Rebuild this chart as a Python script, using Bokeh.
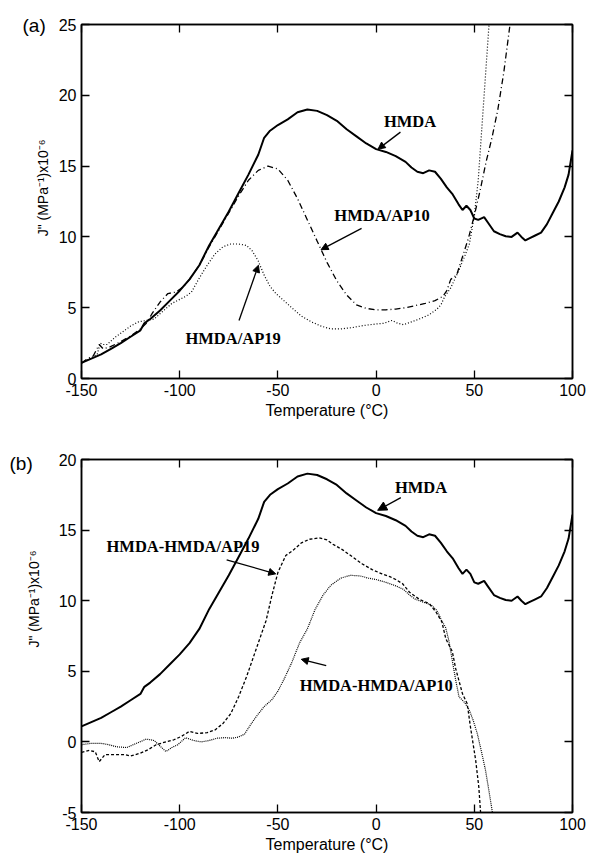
from bokeh.plotting import figure
from bokeh.layouts import column
from bokeh.models import (LinearAxis, FixedTicker, Label, Arrow, NormalHead, Range1d,
                          CustomLabelingPolicy)
from bokeh.embed import file_html
from bokeh.resources import INLINE

# ---- loss compliance J'' (MPa^-1 x 1e-6) versus temperature (deg C) ----

# HMDA (shown in both panels)
hmda_t = [-150, -145, -140, -135, -130, -125, -120, -118, -115, -110, -105, -100,
          -95, -90, -85, -80, -75, -70, -65, -60, -57, -54, -50, -45, -40, -35,
          -30, -25, -20, -15, -10, -5, 0, 5, 10, 15, 18, 21, 24, 27, 30, 33, 36,
          39, 42, 44, 46, 48, 50, 52, 55, 57, 60, 63, 66, 69, 72, 74, 76, 78, 81,
          84, 87, 90, 93, 96, 98, 100]
hmda_j = [1.1, 1.4, 1.7, 2.1, 2.5, 2.95, 3.4, 3.9, 4.2, 4.8, 5.5, 6.2,
          7.0, 8.0, 9.4, 10.6, 11.8, 13.1, 14.4, 15.8, 17.0, 17.5, 17.9, 18.3, 18.8, 19.0,
          18.9, 18.6, 18.2, 17.6, 17.1, 16.6, 16.2, 16.0, 15.7, 15.3, 14.9, 14.6, 14.5, 14.7, 14.6, 14.1, 13.5,
          13.0, 12.3, 11.9, 12.2, 11.9, 11.3, 11.2, 11.4, 11.0, 10.4, 10.2, 10.05, 10.0, 10.3, 10.0, 9.75, 9.9, 10.1,
          10.3, 10.9, 11.7, 12.5, 13.5, 14.4, 16.1]

# HMDA/AP10
ap10_t = [-150, -147, -144, -141, -139, -136, -130, -125, -120, -117, -114, -110,
          -106, -102, -98, -95, -90, -85, -80, -75, -70, -65, -60, -55, -50, -45,
          -40, -35, -30, -25, -20, -15, -10, -5, 0, 5, 10, 15, 20, 25, 30, 34, 36,
          38, 41, 44, 47, 50, 53, 56, 59, 62, 65, 68, 69.5]
ap10_j = [1.1, 1.4, 1.6, 2.4, 2.1, 2.2, 2.6, 3.0, 3.5, 3.9, 4.6, 5.4,
          6.0, 6.1, 6.5, 7.0, 8.0, 9.3, 10.5, 11.7, 12.9, 14.0, 14.7, 15.0, 14.8, 14.0,
          12.7, 11.2, 9.7, 8.2, 6.9, 5.9, 5.2, 4.95, 4.85, 4.85, 4.9, 5.0, 5.15, 5.3, 5.5, 5.8, 6.2,
          7.0, 7.3, 8.6, 9.9, 11.5, 13.3, 15.3, 17.0, 19.0, 21.6, 24.8, 26.5]

# HMDA/AP19
ap19_t = [-150, -146, -142, -140.5, -139, -137, -133, -129, -125, -121, -117, -113,
          -109, -104, -97, -94, -90, -86, -82, -78, -74, -70, -66, -63, -60, -57,
          -54, -51, -47, -43, -38, -33, -28, -23, -18, -12, -6, 0, 4, 8, 11, 14,
          18, 22, 27, 31, 33, 35, 38, 42, 45, 47.5, 50, 52, 53.5, 55, 56.5, 58]
ap19_j = [1.1, 1.4, 1.7, 2.5, 2.4, 2.4, 2.9, 3.3, 3.7, 4.0, 4.1, 4.2,
          4.7, 5.3, 5.8, 6.1, 7.1, 8.0, 8.8, 9.3, 9.5, 9.5, 9.4, 9.0, 8.3, 7.3,
          6.5, 6.0, 5.5, 5.0, 4.4, 4.0, 3.7, 3.5, 3.5, 3.6, 3.75, 3.85, 3.9, 4.1, 3.9, 3.8,
          4.0, 4.2, 4.5, 4.9, 5.2, 5.8, 6.4, 7.6, 8.6, 9.5, 11.5, 14.0, 17.0, 20.0, 23.0, 26.0]

# HMDA - HMDA/AP19
d19_t = [-150, -146, -143, -141, -138, -133, -128, -125, -120, -116, -112, -107,
         -103, -99, -95, -91, -86, -82, -78, -74, -70, -66, -62, -59, -56, -53,
         -50, -46, -42, -38, -34, -29, -25, -22, -17, -12, -7, -2, 3, 7, 10, 13.5,
         17, 22, 27, 30.5, 33.5, 35.5, 38.8, 40.5, 44, 46.4, 48, 50.7, 52.3, 53.2, 53.6]
d19_j = [-0.75, -0.6, -0.7, -1.4, -0.9, -0.9, -0.9, -1.0, -0.8, -0.55, -0.2, 0.0,
         0.15, 0.4, 0.75, 0.6, 0.65, 0.85, 1.3, 2.0, 3.2, 4.6, 6.2, 7.4, 8.6, 10.4,
         12.0, 13.2, 13.6, 14.1, 14.35, 14.45, 14.3, 14.0, 13.6, 13.1, 12.6, 12.2, 11.9, 11.7, 11.5, 11.2,
         10.6, 10.1, 9.8, 9.2, 8.5, 7.3, 6.4, 5.2, 3.4, 2.7, 1.1, -1.3, -3.2, -5.0, -5.6]

# HMDA - HMDA/AP10
d10_t = [-150, -145, -140, -136, -132, -127, -122, -117, -113, -110, -107, -104,
         -101, -97, -93, -89, -85, -81, -77, -73, -70, -67, -64, -61, -57, -53,
         -50, -47, -43, -39, -35, -31, -27, -23, -18, -13, -8, -4, 0, 5, 10, 14,
         17, 20, 24, 28, 31, 33, 35.4, 37, 39, 40.5, 42.2, 45, 47.3, 49.5, 51.5,
         53.5, 55.7, 57.5, 59.1, 59.6]
d10_j = [-0.2, -0.1, -0.1, -0.2, -0.35, -0.4, -0.1, 0.2, 0.1, -0.3, -0.68, -0.4,
         -0.2, 0.3, 0.1, 0.0, 0.1, 0.26, 0.3, 0.26, 0.35, 0.55, 1.2, 1.8, 2.5, 3.0,
         3.6, 4.4, 5.6, 7.0, 8.0, 9.4, 10.4, 11.1, 11.6, 11.8, 11.75, 11.6, 11.5, 11.3, 11.05, 10.8,
         10.4, 10.1, 9.9, 9.7, 9.3, 8.7, 8.1, 7.2, 5.6, 4.4, 3.2, 2.8, 2.3, 1.5, 0.6,
         -0.6, -2.0, -3.5, -4.9, -5.6]

x_ticks = [-150, -100, -50, 0, 50, 100]
y_ticks_a = [0, 5, 10, 15, 20, 25]
y_ticks_b = [-5, 0, 5, 10, 15, 20]

SANS = "Liberation Sans"
SERIF = "Liberation Serif"
Y_TITLE = 'J" (MPa\u207b\u00b9)x10\u207b\u2076'
NBSP = "\u00a0"

# tick-only axes on the top and right edges: drop every label
NO_LABELS = "for (const i of indices) { indices.unset(i) }\nreturn indices"


def plain_minus(ticks):
    return {t: str(t) for t in ticks if t < 0}


def make_panel(height, border_top, border_bottom, border_left, border_right, yr, yticks,
               title_standoff, tag, tag_drop, title_lift):
    # leading no-break spaces lift the rotated y title above the frame centre
    ytitle = NBSP * title_lift + Y_TITLE
    p = figure(width=590, height=height, output_backend="svg", toolbar_location=None,
               x_range=Range1d(-150, 100), y_range=Range1d(*yr),
               min_border_left=border_left, min_border_right=border_right,
               min_border_top=border_top, min_border_bottom=border_bottom,
               x_axis_label="Temperature (\u00b0C)", y_axis_label=ytitle)
    p.grid.visible = False
    p.outline_line_color = "black"
    p.outline_line_width = 1.5
    p.background_fill_color = "white"
    p.border_fill_color = "white"

    # panel tag, set in the top-left corner
    p.title.text = tag
    p.title.align = "left"
    p.title.offset = 9 - border_left
    p.title.standoff = -tag_drop
    p.title.text_font = SANS
    p.title.text_font_style = "normal"
    p.title.text_font_size = "19px"
    p.title.text_color = "black"

    p.xaxis.ticker = FixedTicker(ticks=x_ticks)
    p.yaxis.ticker = FixedTicker(ticks=yticks)
    p.xaxis.major_label_overrides = plain_minus(x_ticks)
    p.yaxis.major_label_overrides = plain_minus(yticks)
    for ax in (p.xaxis[0], p.yaxis[0]):
        ax.major_tick_in = 8
        ax.major_tick_out = 0
        ax.minor_tick_line_color = None
        ax.axis_line_width = 1.5
        ax.major_tick_line_width = 1.3
        ax.major_label_text_font = SANS
        ax.major_label_text_font_size = "16px"
        ax.major_label_text_color = "black"
        ax.axis_label_text_font = SANS
        ax.axis_label_text_font_style = "normal"
        ax.axis_label_text_color = "black"
    p.xaxis.major_label_standoff = 5
    p.xaxis.axis_label_standoff = 3
    p.xaxis.axis_label_text_font_size = "16px"
    p.yaxis.major_label_standoff = 5
    p.yaxis.axis_label_standoff = title_standoff
    p.yaxis.axis_label_text_font_size = "14px"

    for loc, ticks in (("above", x_ticks), ("right", yticks)):
        ax = LinearAxis(ticker=FixedTicker(ticks=ticks), major_tick_in=8, major_tick_out=0,
                        minor_tick_line_color=None, axis_line_width=1.5,
                        major_tick_line_width=1.3, major_label_standoff=0,
                        major_label_text_font_size="0px",
                        major_label_policy=CustomLabelingPolicy(code=NO_LABELS))
        p.add_layout(ax, loc)
    return p


def annotate(p, text, tx, ty, x0, y0, x1, y1, head=7):
    p.add_layout(Label(x=tx, y=ty, text=text, text_font=SERIF, text_font_style="bold",
                       text_font_size="16.5px", text_align="center", text_baseline="middle",
                       text_color="black"))
    p.add_layout(Arrow(x_start=x0, y_start=y0, x_end=x1, y_end=y1, line_width=1.3,
                       line_color="black",
                       end=NormalHead(size=head, fill_color="black", line_color="black")))


# ---- panel (a) ----
pa = make_panel(430, 24, 52, 68, 18, (0, 25), y_ticks_a, 5, "(a)", 22, 7)
pa.line(hmda_t, hmda_j, line_color="black", line_width=2.0)
pa.line(ap10_t, ap10_j, line_color="black", line_width=1.3, line_dash="6 3 1 3")
pa.line(ap19_t, ap19_j, line_color="black", line_width=1.2, line_dash="1 2")
annotate(pa, "HMDA", 17.3, 18.15, 12.4, 17.4, 1.0, 16.2)
annotate(pa, "HMDA/AP10", 3.0, 11.5, -7.4, 10.6, -28.0, 9.1)
annotate(pa, "HMDA/AP19", -72.8, 2.8, -69.8, 4.1, -59.9, 8.0)

# ---- panel (b) ----
pb = make_panel(428, 29, 46, 81, 16, (-5, 20), y_ticks_b, 14, "(b)", 28, 19)
pb.line(hmda_t, hmda_j, line_color="black", line_width=2.0)
pb.line(d19_t, d19_j, line_color="black", line_width=1.3, line_dash="3 2")
pb.line(d10_t, d10_j, line_color="black", line_width=1.2, line_dash="1 1")
annotate(pb, "HMDA", 22.9, 18.0, 12.6, 17.3, 0.8, 16.4, head=9)
annotate(pb, "HMDA-HMDA/AP19", -98.3, 13.85, -76.1, 12.9, -51.1, 11.9)
annotate(pb, "HMDA-HMDA/AP10", 0.1, 3.96, -25.4, 5.4, -38.1, 5.85)

page = column(pa, pb, spacing=0)
with open("out.html", "w") as f:
    f.write(file_html(page, INLINE))
